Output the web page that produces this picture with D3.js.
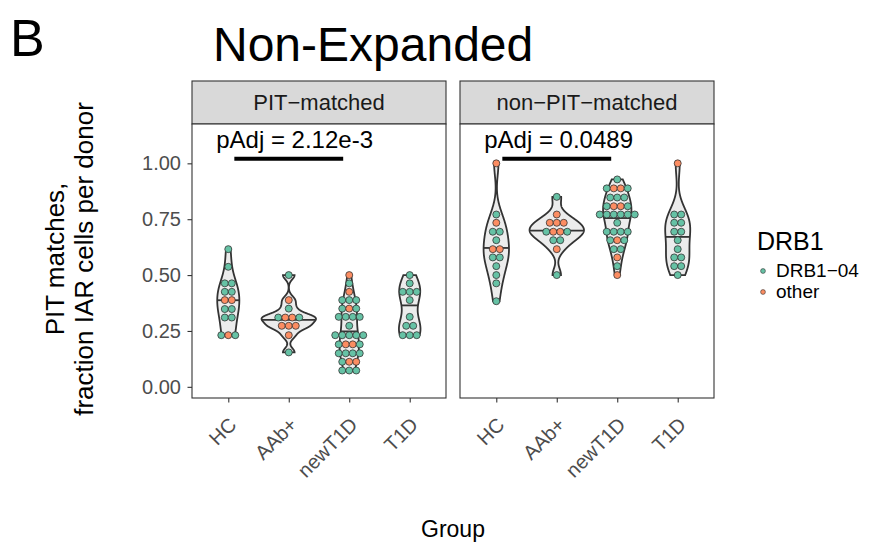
<!DOCTYPE html>
<html>
<head>
<meta charset="utf-8">
<script src="https://cdn.jsdelivr.net/npm/d3@7"></script>
<style>
  body { margin: 0; background: #fff; }
  text { font-family: "Liberation Sans", Arial, Helvetica, sans-serif; }
</style>
</head>
<body>
<svg width="881" height="548"></svg>
<script>
// ---- data ----
var groups = ["HC", "AAb+", "newT1D", "T1D"];
var facets = ["PIT\u2212matched", "non\u2212PIT\u2212matched"];
var yTicks = [0, 0.25, 0.5, 0.75, 1];
var alleleNames = ["DRB1\u221204", "other"];
var pAdjLabels = ["pAdj = 2.12e-3", "pAdj = 0.0489"];
var sigPairs = [["HC", "newT1D"], ["HC", "newT1D"]];

// fraction per donor; allele strings give the dot colour in the same order (G = DRB1-04, O = other)
var pitHC = [0.616, 0.537, 0.463, 0.463, 0.425, 0.425, 0.388, 0.388, 0.348, 0.348, 0.31, 0.31, 0.231, 0.231, 0.231];
var pitHCAllele = "GGGGGGOOGGGGGOG";
var pitAAb = [0.5, 0.388, 0.35, 0.31, 0.31, 0.31, 0.31, 0.273, 0.273, 0.273, 0.231, 0.154];
var pitAAbAllele = "GOGGOOGOOOOG";
var pitNew = [0.5, 0.463, 0.425, 0.388, 0.388, 0.388, 0.35, 0.35, 0.35, 0.313, 0.313, 0.313, 0.313, 0.273,
  0.231, 0.231, 0.231, 0.231, 0.231, 0.19, 0.19, 0.19, 0.19, 0.15, 0.15, 0.15, 0.15, 0.112, 0.112, 0.112,
  0.073, 0.073, 0.073];
var pitNewAllele = "OGOGGGGOGGGGGGGGGGGGOOGGGGGGOOGGG";
var pitT1D = [0.5, 0.463, 0.425, 0.425, 0.425, 0.388, 0.313, 0.273, 0.273, 0.231, 0.231, 0.231];
var pitT1DAllele = "GGGGGGGGGGGG";

var nonHC = [1.0, 0.771, 0.734, 0.694, 0.694, 0.656, 0.616, 0.616, 0.579, 0.579, 0.54, 0.5, 0.463, 0.383];
var nonHCAllele = "OGOGGGOOGGGGGG";
var nonAAb = [0.85, 0.771, 0.734, 0.734, 0.734, 0.694, 0.694, 0.694, 0.694, 0.656, 0.656, 0.616, 0.5];
var nonAAbAllele = "GOOOOGOOGGGOG";
var nonNew = [0.928, 0.888, 0.888, 0.888, 0.888, 0.847, 0.847, 0.847, 0.808, 0.808, 0.808, 0.808,
  0.771, 0.771, 0.771, 0.771, 0.771, 0.771, 0.734, 0.694, 0.694, 0.694, 0.694, 0.656, 0.656, 0.656,
  0.616, 0.616, 0.579, 0.54, 0.5];
var nonNewAllele = "GGOOGGGGGOOGGGGGGGGGGGGGOGGGOGO";
var nonT1D = [1.0, 0.771, 0.771, 0.734, 0.734, 0.694, 0.694, 0.656, 0.616, 0.579, 0.579, 0.54, 0.54, 0.5];
var nonT1DAllele = "OGGGGGGGGGGGGG";

// ---- layout ----
var svg = d3.select("svg");
var panelLeft = [192, 460], panelW = 254;
var stripTop = 81, plotTop = 124, plotBottom = 398;
var colors = { G: "#66C2A5", O: "#FC8D62" };
var dotR = 3.5, dotStep = 7;

var y = d3.scaleLinear().domain([-0.05, 1.176]).range([plotBottom, plotTop]);

var panels = [
  { facet: facets[0], vals: [pitHC, pitAAb, pitNew, pitT1D], alle: [pitHCAllele, pitAAbAllele, pitNewAllele, pitT1DAllele] },
  { facet: facets[1], vals: [nonHC, nonAAb, nonNew, nonT1D], alle: [nonHCAllele, nonAAbAllele, nonNewAllele, nonT1DAllele] }
];

function bwNrd0(v) {
  var s = v.slice().sort(d3.ascending);
  var iqr = d3.quantileSorted(s, 0.75) - d3.quantileSorted(s, 0.25);
  var sd = d3.deviation(s);
  var lo = Math.min(sd, iqr / 1.34);
  if (!lo) lo = sd || Math.abs(s[0]) || 1;
  return 0.9 * lo * Math.pow(s.length, -0.2);
}

function density(v) {
  var bw = bwNrd0(v), lo = d3.min(v), hi = d3.max(v);
  return d3.range(512).map(function(i) {
    var t = lo + (hi - lo) * i / 511;
    var d = d3.mean(v, function(x) { return Math.exp(-0.5 * Math.pow((t - x) / bw, 2)); }) / (bw * Math.sqrt(2 * Math.PI));
    return { y: t, d: d };
  });
}

// title
svg.append("text").attr("x", 10).attr("y", 56).attr("font-size", 52).attr("fill", "#000").text("B");
svg.append("text").attr("x", 213).attr("y", 61).attr("font-size", 48).attr("fill", "#000").text("Non-Expanded");

panels.forEach(function(p, pi) {
  var x0 = panelLeft[pi];
  var x = d3.scaleLinear().domain([0.4, 4.6]).range([x0, x0 + panelW]);
  var unit = x(1) - x(0);
  var g = svg.append("g");

  // strip
  g.append("rect").attr("x", x0).attr("y", stripTop).attr("width", panelW).attr("height", plotTop - stripTop)
    .attr("fill", "#D9D9D9").attr("stroke", "#333").attr("stroke-width", 1.1);
  g.append("text").attr("x", x0 + panelW / 2).attr("y", (stripTop + plotTop) / 2).attr("dy", "0.36em")
    .attr("text-anchor", "middle").attr("font-size", 22).attr("fill", "#1A1A1A").text(p.facet);

  // panel
  g.append("rect").attr("x", x0).attr("y", plotTop).attr("width", panelW).attr("height", plotBottom - plotTop)
    .attr("fill", "#fff");

  var dens = p.vals.map(density);
  var maxD = d3.max(dens, function(ds) { return d3.max(ds, function(d) { return d.d; }); });

  dens.forEach(function(ds, gi) {
    var cx = x(gi + 1);
    var hw = function(d) { return d.d / maxD * 0.45 * unit; };
    var area = d3.area()
      .y(function(d) { return y(d.y); })
      .x0(function(d) { return cx - hw(d); })
      .x1(function(d) { return cx + hw(d); });
    g.append("path").datum(ds).attr("d", area)
      .attr("fill", "#ECECEC").attr("stroke", "#333").attr("stroke-width", 1.8);

    // median of the density
    var total = d3.sum(ds, function(d) { return d.d; }), cum = 0, qy = ds[0].y, qw = hw(ds[0]);
    for (var i = 0; i < ds.length; i++) {
      var prev = cum;
      cum += ds[i].d / total;
      if (cum >= 0.5) {
        var f = i === 0 ? 0 : (0.5 - prev) / (cum - prev);
        var a = ds[Math.max(i - 1, 0)], b = ds[i];
        qy = a.y + (b.y - a.y) * f;
        qw = hw(a) + (hw(b) - hw(a)) * f;
        break;
      }
    }
    g.append("line").attr("x1", cx - qw).attr("x2", cx + qw).attr("y1", y(qy)).attr("y2", y(qy))
      .attr("stroke", "#333").attr("stroke-width", 1.8);
  });

  // dots, stacked centred in rows of equal value
  p.vals.forEach(function(v, gi) {
    var cx = x(gi + 1);
    var rows = d3.group(d3.range(v.length), function(i) { return v[i]; });
    rows.forEach(function(idx, val) {
      idx.forEach(function(i, k) {
        g.append("circle")
          .attr("cx", cx + (k - (idx.length - 1) / 2) * dotStep)
          .attr("cy", y(val))
          .attr("r", dotR)
          .attr("fill", colors[p.alle[gi][i]])
          .attr("stroke", "#333").attr("stroke-width", 0.8);
      });
    });
  });

  // significance bar + label
  var s1 = groups.indexOf(sigPairs[pi][0]) + 1, s2 = groups.indexOf(sigPairs[pi][1]) + 1;
  g.append("line").attr("x1", x(s1 + 0.1)).attr("x2", x(s2 - 0.1)).attr("y1", y(1.02)).attr("y2", y(1.02))
    .attr("stroke", "#000").attr("stroke-width", 4);
  g.append("text").attr("x", x(s1 - 0.2)).attr("y", y(1.068)).attr("font-size", 24).attr("fill", "#000")
    .text(pAdjLabels[pi]);

  // border on top
  g.append("rect").attr("x", x0).attr("y", plotTop).attr("width", panelW).attr("height", plotBottom - plotTop)
    .attr("fill", "none").attr("stroke", "#333").attr("stroke-width", 1.1);

  // x axis
  var xAxis = g.append("g").attr("transform", "translate(0," + plotBottom + ")")
    .call(d3.axisBottom(x).tickValues([1, 2, 3, 4]).tickSize(4.5).tickFormat(function(d) { return groups[d - 1]; }));
  xAxis.select(".domain").remove();
  xAxis.selectAll(".tick line").attr("stroke", "#333").attr("stroke-width", 1.1);
  xAxis.selectAll(".tick text")
    .attr("font-size", 20).attr("font-family", null).attr("fill", "#4D4D4D")
    .attr("text-anchor", "end").attr("dy", null).attr("y", null)
    .attr("transform", "translate(9,28) rotate(-45)");

  // y axis only on the first panel
  if (pi === 0) {
    var yAxis = g.append("g").attr("transform", "translate(" + x0 + ",0)")
      .call(d3.axisLeft(y).tickValues(yTicks).tickSize(4.5).tickFormat(d3.format(".2f")));
    yAxis.select(".domain").remove();
    yAxis.selectAll(".tick line").attr("stroke", "#333").attr("stroke-width", 1.1);
    yAxis.selectAll(".tick text").attr("font-size", 20).attr("font-family", null).attr("fill", "#4D4D4D").attr("x", -11);
  }
});

// axis titles
svg.append("text").attr("x", (panelLeft[0] + panelLeft[1] + panelW) / 2).attr("y", 537)
  .attr("text-anchor", "middle").attr("font-size", 23).attr("fill", "#000").text("Group");
var yt = svg.append("text").attr("transform", "translate(0,259) rotate(-90)")
  .attr("text-anchor", "middle").attr("font-size", 26).attr("fill", "#000");
yt.append("tspan").attr("x", 0).attr("y", 64).text("PIT matches,");
yt.append("tspan").attr("x", 0).attr("y", 93).text("fraction IAR cells per donor");

// legend
var leg = svg.append("g");
leg.append("text").attr("x", 757).attr("y", 250).attr("font-size", 25).attr("fill", "#000").text("DRB1");
[["G", alleleNames[0]], ["O", alleleNames[1]]].forEach(function(d, i) {
  leg.append("circle").attr("cx", 763).attr("cy", 271 + i * 21).attr("r", 2.4)
    .attr("fill", colors[d[0]]).attr("stroke", "#333").attr("stroke-width", 0.6);
  leg.append("text").attr("x", 776).attr("y", 277 + i * 21).attr("font-size", 19).attr("fill", "#000").text(d[1]);
});
</script>
</body>
</html>
